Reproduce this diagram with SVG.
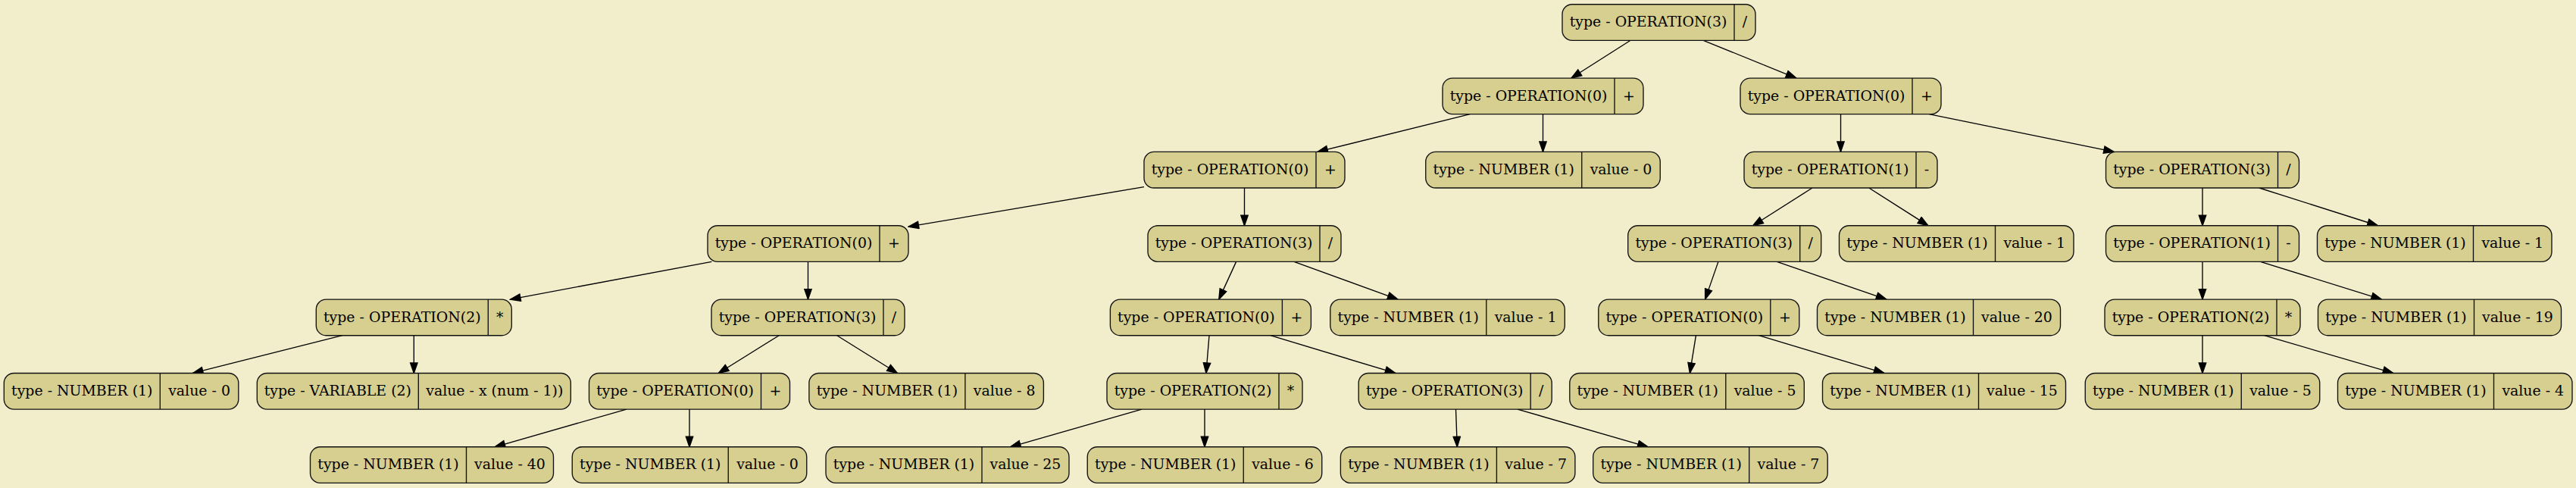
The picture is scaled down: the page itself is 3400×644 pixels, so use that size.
<svg xmlns="http://www.w3.org/2000/svg" width="3400" height="644" viewBox="0 0 3400 644">
<defs>
<style>
.node rect{fill:#d6cf8f;stroke:#111;stroke-width:1.35}
.node line{stroke:#111;stroke-width:1.35}
.node text{font-family:"DejaVu Serif","Liberation Serif",serif;font-size:18.9px;text-anchor:middle;fill:#000}
#edges path{fill:none;stroke:#000;stroke-width:1.35}
</style>
<marker id="arr" markerUnits="userSpaceOnUse" markerWidth="16" markerHeight="12" viewBox="-1 -1 16 12" refX="13.5" refY="4.7" orient="auto">
<path d="M0,0 L13.5,4.7 L0,9.4 z" fill="#000" stroke="#000" stroke-width="1.35"/>
</marker>
</defs>
<rect x="0" y="0" width="3400" height="644" fill="#f2eecb"/>
<g id="edges">
<path d="M2152.1,53.3 L2073.9,103.05" marker-end="url(#arr)"/>
<path d="M2248.2,53.3 L2370.8,103.05" marker-end="url(#arr)"/>
<path d="M1940.2,150.65 L1738.8,200.4" marker-end="url(#arr)"/>
<path d="M2036.5,150.65 L2036.5,200.4" marker-end="url(#arr)"/>
<path d="M2429.5,150.65 L2429.5,200.4" marker-end="url(#arr)"/>
<path d="M2546.2,150.65 L2790.3,200.4" marker-end="url(#arr)"/>
<path d="M1510,246.59 L1199,299.16" marker-end="url(#arr)"/>
<path d="M1642.5,248 L1642.5,297.75" marker-end="url(#arr)"/>
<path d="M2392,248 L2313.7,297.75" marker-end="url(#arr)"/>
<path d="M2466.85,248 L2544.9,297.75" marker-end="url(#arr)"/>
<path d="M2907,248 L2907,297.75" marker-end="url(#arr)"/>
<path d="M2981.9,248 L3138.35,297.75" marker-end="url(#arr)"/>
<path d="M939.3,345.35 L673.5,395.1" marker-end="url(#arr)"/>
<path d="M1066.5,345.35 L1066.5,395.1" marker-end="url(#arr)"/>
<path d="M1631.6,345.35 L1608.8,395.1" marker-end="url(#arr)"/>
<path d="M1708,345.35 L1845,395.1" marker-end="url(#arr)"/>
<path d="M2267.9,345.35 L2250.6,395.1" marker-end="url(#arr)"/>
<path d="M2345.3,345.35 L2489.9,395.1" marker-end="url(#arr)"/>
<path d="M2907,345.35 L2907,395.1" marker-end="url(#arr)"/>
<path d="M2983.5,345.35 L3143.5,395.1" marker-end="url(#arr)"/>
<path d="M451.9,442.7 L254.45,492.45" marker-end="url(#arr)"/>
<path d="M546.3,442.7 L546.3,492.45" marker-end="url(#arr)"/>
<path d="M1028.2,442.7 L948.3,492.45" marker-end="url(#arr)"/>
<path d="M1104.7,442.7 L1184.45,492.45" marker-end="url(#arr)"/>
<path d="M1596,442.7 L1591.9,492.45" marker-end="url(#arr)"/>
<path d="M1676.8,442.7 L1841.8,492.45" marker-end="url(#arr)"/>
<path d="M2238.45,442.7 L2230.4,492.45" marker-end="url(#arr)"/>
<path d="M2321.4,442.7 L2486.9,492.45" marker-end="url(#arr)"/>
<path d="M2907,442.7 L2907,492.45" marker-end="url(#arr)"/>
<path d="M2988.5,442.7 L3158.75,492.45" marker-end="url(#arr)"/>
<path d="M826.9,540.05 L653.1,589.8" marker-end="url(#arr)"/>
<path d="M910,540.05 L910,589.8" marker-end="url(#arr)"/>
<path d="M1507,540.05 L1333.5,589.8" marker-end="url(#arr)"/>
<path d="M1590,540.05 L1590,589.8" marker-end="url(#arr)"/>
<path d="M1921.5,540.05 L1923.3,589.8" marker-end="url(#arr)"/>
<path d="M2003,540.05 L2175.1,589.8" marker-end="url(#arr)"/>
</g>
<g id="n1" class="node" transform="translate(2062,5.7)"><rect width="255" height="47.6" rx="13"/><line x1="227" y1="0" x2="227" y2="47.6"/><text x="113.5" y="29.6">type - OPERATION(3)</text><text x="241" y="29.6">/</text></g>
<g id="n2" class="node" transform="translate(1904,103.05)"><rect width="265" height="47.6" rx="13"/><line x1="227" y1="0" x2="227" y2="47.6"/><text x="113.5" y="29.6">type - OPERATION(0)</text><text x="246" y="29.6">+</text></g>
<g id="n3" class="node" transform="translate(2297,103.05)"><rect width="265" height="47.6" rx="13"/><line x1="227" y1="0" x2="227" y2="47.6"/><text x="113.5" y="29.6">type - OPERATION(0)</text><text x="246" y="29.6">+</text></g>
<g id="n4" class="node" transform="translate(1510,200.4)"><rect width="265" height="47.6" rx="13"/><line x1="227" y1="0" x2="227" y2="47.6"/><text x="113.5" y="29.6">type - OPERATION(0)</text><text x="246" y="29.6">+</text></g>
<g id="n5" class="node" transform="translate(1881.75,200.4)"><rect width="309.5" height="47.6" rx="13"/><line x1="206" y1="0" x2="206" y2="47.6"/><text x="103" y="29.6">type - NUMBER (1)</text><text x="257.75" y="29.6">value - 0</text></g>
<g id="n6" class="node" transform="translate(2302,200.4)"><rect width="255" height="47.6" rx="13"/><line x1="227" y1="0" x2="227" y2="47.6"/><text x="113.5" y="29.6">type - OPERATION(1)</text><text x="241" y="29.6">-</text></g>
<g id="n7" class="node" transform="translate(2779.5,200.4)"><rect width="255" height="47.6" rx="13"/><line x1="227" y1="0" x2="227" y2="47.6"/><text x="113.5" y="29.6">type - OPERATION(3)</text><text x="241" y="29.6">/</text></g>
<g id="n8" class="node" transform="translate(934,297.75)"><rect width="265" height="47.6" rx="13"/><line x1="227" y1="0" x2="227" y2="47.6"/><text x="113.5" y="29.6">type - OPERATION(0)</text><text x="246" y="29.6">+</text></g>
<g id="n9" class="node" transform="translate(1515,297.75)"><rect width="255" height="47.6" rx="13"/><line x1="227" y1="0" x2="227" y2="47.6"/><text x="113.5" y="29.6">type - OPERATION(3)</text><text x="241" y="29.6">/</text></g>
<g id="n12" class="node" transform="translate(2148.7,297.75)"><rect width="255" height="47.6" rx="13"/><line x1="227" y1="0" x2="227" y2="47.6"/><text x="113.5" y="29.6">type - OPERATION(3)</text><text x="241" y="29.6">/</text></g>
<g id="n13" class="node" transform="translate(2427.5,297.75)"><rect width="309.5" height="47.6" rx="13"/><line x1="206" y1="0" x2="206" y2="47.6"/><text x="103" y="29.6">type - NUMBER (1)</text><text x="257.75" y="29.6">value - 1</text></g>
<g id="n14" class="node" transform="translate(2779.5,297.75)"><rect width="255" height="47.6" rx="13"/><line x1="227" y1="0" x2="227" y2="47.6"/><text x="113.5" y="29.6">type - OPERATION(1)</text><text x="241" y="29.6">-</text></g>
<g id="n15" class="node" transform="translate(3058.5,297.75)"><rect width="309.5" height="47.6" rx="13"/><line x1="206" y1="0" x2="206" y2="47.6"/><text x="103" y="29.6">type - NUMBER (1)</text><text x="257.75" y="29.6">value - 1</text></g>
<g id="n16" class="node" transform="translate(417.3,395.1)"><rect width="258" height="47.6" rx="13"/><line x1="227" y1="0" x2="227" y2="47.6"/><text x="113.5" y="29.6">type - OPERATION(2)</text><text x="242.5" y="29.6">*</text></g>
<g id="n17" class="node" transform="translate(939,395.1)"><rect width="255" height="47.6" rx="13"/><line x1="227" y1="0" x2="227" y2="47.6"/><text x="113.5" y="29.6">type - OPERATION(3)</text><text x="241" y="29.6">/</text></g>
<g id="n18" class="node" transform="translate(1465.4,395.1)"><rect width="265" height="47.6" rx="13"/><line x1="227" y1="0" x2="227" y2="47.6"/><text x="113.5" y="29.6">type - OPERATION(0)</text><text x="246" y="29.6">+</text></g>
<g id="n19" class="node" transform="translate(1755.8,395.1)"><rect width="309.5" height="47.6" rx="13"/><line x1="206" y1="0" x2="206" y2="47.6"/><text x="103" y="29.6">type - NUMBER (1)</text><text x="257.75" y="29.6">value - 1</text></g>
<g id="n24" class="node" transform="translate(2109.8,395.1)"><rect width="265" height="47.6" rx="13"/><line x1="227" y1="0" x2="227" y2="47.6"/><text x="113.5" y="29.6">type - OPERATION(0)</text><text x="246" y="29.6">+</text></g>
<g id="n25" class="node" transform="translate(2398.5,395.1)"><rect width="321" height="47.6" rx="13"/><line x1="206" y1="0" x2="206" y2="47.6"/><text x="103" y="29.6">type - NUMBER (1)</text><text x="263.5" y="29.6">value - 20</text></g>
<g id="n28" class="node" transform="translate(2778,395.1)"><rect width="258" height="47.6" rx="13"/><line x1="227" y1="0" x2="227" y2="47.6"/><text x="113.5" y="29.6">type - OPERATION(2)</text><text x="242.5" y="29.6">*</text></g>
<g id="n29" class="node" transform="translate(3059.5,395.1)"><rect width="321" height="47.6" rx="13"/><line x1="206" y1="0" x2="206" y2="47.6"/><text x="103" y="29.6">type - NUMBER (1)</text><text x="263.5" y="29.6">value - 19</text></g>
<g id="n32" class="node" transform="translate(5.3,492.45)"><rect width="309.5" height="47.6" rx="13"/><line x1="206" y1="0" x2="206" y2="47.6"/><text x="103" y="29.6">type - NUMBER (1)</text><text x="257.75" y="29.6">value - 0</text></g>
<g id="n33" class="node" transform="translate(339.3,492.45)"><rect width="414" height="47.6" rx="13"/><line x1="213" y1="0" x2="213" y2="47.6"/><text x="106.5" y="29.6">type - VARIABLE (2)</text><text x="313.5" y="29.6">value - x (num - 1))</text></g>
<g id="n34" class="node" transform="translate(777.5,492.45)"><rect width="265" height="47.6" rx="13"/><line x1="227" y1="0" x2="227" y2="47.6"/><text x="113.5" y="29.6">type - OPERATION(0)</text><text x="246" y="29.6">+</text></g>
<g id="n35" class="node" transform="translate(1067.9,492.45)"><rect width="309.5" height="47.6" rx="13"/><line x1="206" y1="0" x2="206" y2="47.6"/><text x="103" y="29.6">type - NUMBER (1)</text><text x="257.75" y="29.6">value - 8</text></g>
<g id="n36" class="node" transform="translate(1461,492.45)"><rect width="258" height="47.6" rx="13"/><line x1="227" y1="0" x2="227" y2="47.6"/><text x="113.5" y="29.6">type - OPERATION(2)</text><text x="242.5" y="29.6">*</text></g>
<g id="n37" class="node" transform="translate(1793.2,492.45)"><rect width="255" height="47.6" rx="13"/><line x1="227" y1="0" x2="227" y2="47.6"/><text x="113.5" y="29.6">type - OPERATION(3)</text><text x="241" y="29.6">/</text></g>
<g id="n48" class="node" transform="translate(2071.8,492.45)"><rect width="309.5" height="47.6" rx="13"/><line x1="206" y1="0" x2="206" y2="47.6"/><text x="103" y="29.6">type - NUMBER (1)</text><text x="257.75" y="29.6">value - 5</text></g>
<g id="n49" class="node" transform="translate(2405.5,492.45)"><rect width="321" height="47.6" rx="13"/><line x1="206" y1="0" x2="206" y2="47.6"/><text x="103" y="29.6">type - NUMBER (1)</text><text x="263.5" y="29.6">value - 15</text></g>
<g id="n56" class="node" transform="translate(2752.25,492.45)"><rect width="309.5" height="47.6" rx="13"/><line x1="206" y1="0" x2="206" y2="47.6"/><text x="103" y="29.6">type - NUMBER (1)</text><text x="257.75" y="29.6">value - 5</text></g>
<g id="n57" class="node" transform="translate(3085.5,492.45)"><rect width="309.5" height="47.6" rx="13"/><line x1="206" y1="0" x2="206" y2="47.6"/><text x="103" y="29.6">type - NUMBER (1)</text><text x="257.75" y="29.6">value - 4</text></g>
<g id="n68" class="node" transform="translate(409.5,589.8)"><rect width="321" height="47.6" rx="13"/><line x1="206" y1="0" x2="206" y2="47.6"/><text x="103" y="29.6">type - NUMBER (1)</text><text x="263.5" y="29.6">value - 40</text></g>
<g id="n69" class="node" transform="translate(755.25,589.8)"><rect width="309.5" height="47.6" rx="13"/><line x1="206" y1="0" x2="206" y2="47.6"/><text x="103" y="29.6">type - NUMBER (1)</text><text x="257.75" y="29.6">value - 0</text></g>
<g id="n72" class="node" transform="translate(1090,589.8)"><rect width="321" height="47.6" rx="13"/><line x1="206" y1="0" x2="206" y2="47.6"/><text x="103" y="29.6">type - NUMBER (1)</text><text x="263.5" y="29.6">value - 25</text></g>
<g id="n73" class="node" transform="translate(1435.25,589.8)"><rect width="309.5" height="47.6" rx="13"/><line x1="206" y1="0" x2="206" y2="47.6"/><text x="103" y="29.6">type - NUMBER (1)</text><text x="257.75" y="29.6">value - 6</text></g>
<g id="n74" class="node" transform="translate(1769.4,589.8)"><rect width="309.5" height="47.6" rx="13"/><line x1="206" y1="0" x2="206" y2="47.6"/><text x="103" y="29.6">type - NUMBER (1)</text><text x="257.75" y="29.6">value - 7</text></g>
<g id="n75" class="node" transform="translate(2102.7,589.8)"><rect width="309.5" height="47.6" rx="13"/><line x1="206" y1="0" x2="206" y2="47.6"/><text x="103" y="29.6">type - NUMBER (1)</text><text x="257.75" y="29.6">value - 7</text></g>
</svg>
